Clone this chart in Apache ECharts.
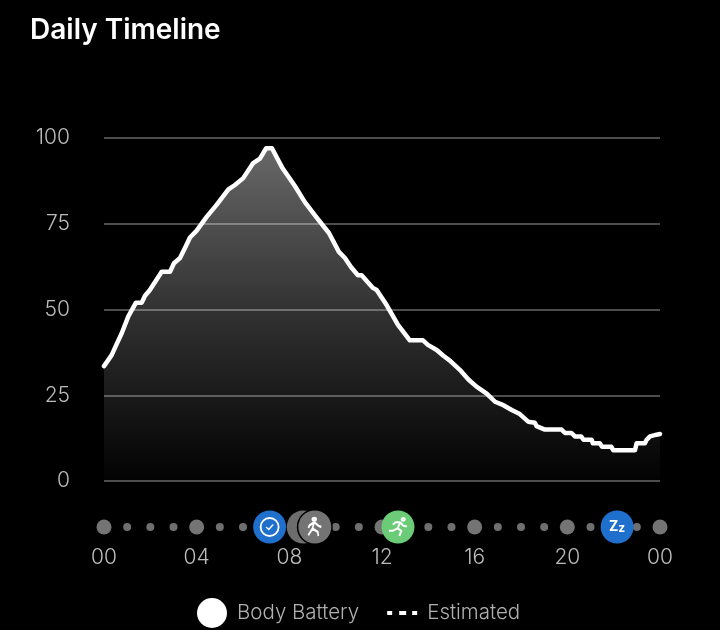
<!DOCTYPE html>
<html>
<head>
<meta charset="utf-8">
<style>html,body{margin:0;padding:0;background:#000}#c{width:720px;height:630px}</style>
<script src="https://cdn.jsdelivr.net/npm/echarts@6/dist/echarts.min.js"></script>
</head>
<body>
<div id="c"></div>
<script>
const batteryHours = [0,0.33,0.55,0.76,1.05,1.38,1.63,1.77,1.98,2.49,2.85,3.02,3.28,3.5,3.71,4.0,4.43,4.86,5.37,5.65,6.01,6.44,6.73,7.0,7.25,7.68,8.24,8.67,9.19,9.71,10.14,10.4,10.66,10.96,11.12,11.61,11.77,12.2,12.69,13.2,13.77,13.98,14.36,14.65,14.93,15.36,15.73,16.08,16.52,16.88,17.24,17.6,17.95,18.31,18.39,18.6,18.67,19.03,19.75,19.9,20.18,20.33,20.6,20.7,21.05,21.1,21.4,21.5,21.9,21.98,22.92,22.99,23.35,23.42,23.57,23.64,23.85,24];
const batteryValues = [33.5,36.7,40,43,48,52,52,54,55.7,61,61,63.5,65,68,71,73,77,80.5,85,86.3,88.3,92.7,94,97,97,91.5,86,81.3,76.7,72.3,66.8,65,62.4,60,60,56.3,55.7,51.3,45.5,41,41,39.7,38.2,36.5,35.1,32.4,29.6,27.5,25.5,23.1,22.1,20.7,19.5,17.3,17,17,16,15,15,14,14,13,13,12,12,11,11,10,10,9,9,11,11,12,13,13,13.5,13.7];
const yTicks = [0,25,50,75,100];
const xTickLabels = {0:'00',4:'04',8:'08',12:'12',16:'16',20:'20',24:'00'};
const smallDotHours = [1,2,3,5,6,10,11,14,15,17,18,19,21,23];
const bigDotHours = [0,4,12,16,20,24];
const grayEvents = [8.6];
const walkEvents = [9.1];
const runEvents = [12.69];
const clockEvents = [7.15];
const sleepEvents = [22.15];

const row = a => a.map(h => [h, 0.5]);
const walkPath = 'path://M7 0a1.6 1.6 0 1 0 .01 0ZM7 5L5.5 13L2 21M5.5 13L10 17L10.5 22M7 5L3 9L2 12M7 5L10.5 9.5L13 11';
const runPath = 'path://M15 0a1.6 1.6 0 1 0 .01 0ZM12 5L9 12L4 15L0 15M9 12L13 15L11 21M12 5L7 5L4 8M12 5L15 9L19 10';
const clockHands = 'path://M0 3L3 6L8 0';
const font = 'Inter';

const option = {
  backgroundColor: '#000',
  animation: false,
  textStyle: { fontFamily: font },
  title: { text: 'Daily Timeline', left: 30, top: 17, padding: 0,
    textStyle: { color: '#fff', fontSize: 28, fontWeight: 600, fontFamily: font } },
  legend: { left: 197, top: 598, padding: 0, itemWidth: 30, itemHeight: 30, itemGap: 28,
    selectedMode: false,
    textStyle: { color: '#b0b0b0', fontSize: 20.5, fontWeight: 300, fontFamily: font, padding: [1,0,0,5] },
    data: [
      { name: 'Body Battery', icon: 'circle', itemStyle: { color: '#fff' } },
      { name: 'Estimated', itemStyle: { color: '#fff', borderWidth: 0 },
        icon: 'path://M0 0L0 0M0 13H5V17H0ZM12 13H19V17H12ZM25 13H30V17H25ZM30 30L30 30' }
    ] },
  grid: [
    { left: 104, right: 60, top: 138, height: 343 },
    { left: 104, right: 60, top: 526, height: 2 }
  ],
  xAxis: [
    { gridIndex: 0, type: 'value', min: 0, max: 24, show: false },
    { gridIndex: 1, type: 'value', min: 0, max: 24, interval: 4,
      axisLine: { show: false }, axisTick: { show: false }, splitLine: { show: false },
      axisLabel: { margin: 19, color: '#bcbcbc', fontSize: 21, fontWeight: 300, fontFamily: font,
        formatter: v => xTickLabels[v] } }
  ],
  yAxis: [
    { gridIndex: 0, type: 'value', min: 0, max: 100, interval: 25,
      axisLine: { show: false }, axisTick: { show: false },
      splitLine: { lineStyle: { color: '#4d4d4d', width: 2 } },
      axisLabel: { margin: 34, color: '#bcbcbc', fontSize: 21, fontWeight: 300, fontFamily: font,
        padding: [2,0,0,0], customValues: yTicks } },
    { gridIndex: 1, type: 'value', min: 0, max: 1, show: false }
  ],
  series: [
    { name: 'Body Battery', type: 'line', xAxisIndex: 0, yAxisIndex: 0, symbol: 'none', clip: false, z: 3,
      data: batteryHours.map((h, i) => [h, batteryValues[i]]),
      lineStyle: { color: '#fff', width: 4.5, join: 'round', cap: 'round' },
      itemStyle: { color: '#fff' },
      areaStyle: { color: { type: 'linear', x: 0, y: 0, x2: 0, y2: 1, colorStops: [
        { offset: 0, color: 'rgba(255,255,255,0.58)' },
        { offset: 0.5, color: 'rgba(255,255,255,0.27)' },
        { offset: 1, color: 'rgba(255,255,255,0.01)' } ] } } },
    { name: 'Estimated', type: 'line', xAxisIndex: 0, yAxisIndex: 0, data: [], symbol: 'none', itemStyle: { color: '#fff' } },
    { type: 'scatter', xAxisIndex: 1, yAxisIndex: 1, silent: true, clip: false, z: 3, symbolSize: 8,
      data: row(smallDotHours), itemStyle: { color: '#6f6f6f', opacity: 1 } },
    { type: 'scatter', xAxisIndex: 1, yAxisIndex: 1, silent: true, clip: false, z: 3, symbolSize: 15,
      data: row(bigDotHours), itemStyle: { color: '#747474', opacity: 1 } },
    { type: 'scatter', xAxisIndex: 1, yAxisIndex: 1, silent: true, clip: false, z: 4, symbolSize: 33,
      data: row(grayEvents), itemStyle: { color: '#6d6d6d', opacity: 1 } },
    { type: 'scatter', xAxisIndex: 1, yAxisIndex: 1, silent: true, clip: false, z: 5, symbolSize: 36,
      data: row(walkEvents), itemStyle: { color: '#000', opacity: 1 } },
    { type: 'scatter', xAxisIndex: 1, yAxisIndex: 1, silent: true, clip: false, z: 6, symbolSize: 33,
      data: row(walkEvents), itemStyle: { color: '#747474', opacity: 1 } },
    { type: 'scatter', xAxisIndex: 1, yAxisIndex: 1, silent: true, clip: false, z: 7, symbolSize: [13, 18], symbol: walkPath,
      data: row(walkEvents), itemStyle: { color: 'none', borderColor: '#fff', borderWidth: 2, opacity: 1 } },
    { type: 'scatter', xAxisIndex: 1, yAxisIndex: 1, silent: true, clip: false, z: 6, symbolSize: 33,
      data: row(runEvents), itemStyle: { color: '#6bcb77', opacity: 1 } },
    { type: 'scatter', xAxisIndex: 1, yAxisIndex: 1, silent: true, clip: false, z: 7, symbolSize: [18, 18], symbol: runPath,
      data: row(runEvents), itemStyle: { color: 'none', borderColor: '#fff', borderWidth: 2, opacity: 1 } },
    { type: 'scatter', xAxisIndex: 1, yAxisIndex: 1, silent: true, clip: false, z: 6, symbolSize: 33,
      data: row(clockEvents), itemStyle: { color: '#1f70cc', opacity: 1 } },
    { type: 'scatter', xAxisIndex: 1, yAxisIndex: 1, silent: true, clip: false, z: 7, symbolSize: 18,
      data: row(clockEvents), itemStyle: { color: 'none', borderColor: '#fff', borderWidth: 1.8, opacity: 1 } },
    { type: 'scatter', xAxisIndex: 1, yAxisIndex: 1, silent: true, clip: false, z: 8, symbolSize: [7, 5], symbol: clockHands,
      data: row(clockEvents), itemStyle: { color: 'none', borderColor: '#fff', borderWidth: 1.4, opacity: 1 } },
    { type: 'scatter', xAxisIndex: 1, yAxisIndex: 1, silent: true, clip: false, z: 6, symbolSize: 33,
      data: row(sleepEvents), itemStyle: { color: '#1f70cc', opacity: 1 },
      label: { show: true, position: 'inside', formatter: '{a|Z}{b|z}',
        rich: { a: { color: '#fff', fontSize: 14, fontWeight: 'bold', fontFamily: font },
                b: { color: '#fff', fontSize: 12, fontWeight: 'bold', fontFamily: font, padding: [3,0,0,0] } } } }
  ]
};
echarts.init(document.getElementById('c'), null, { renderer: 'canvas' }).setOption(option);
</script>
</body>
</html>
